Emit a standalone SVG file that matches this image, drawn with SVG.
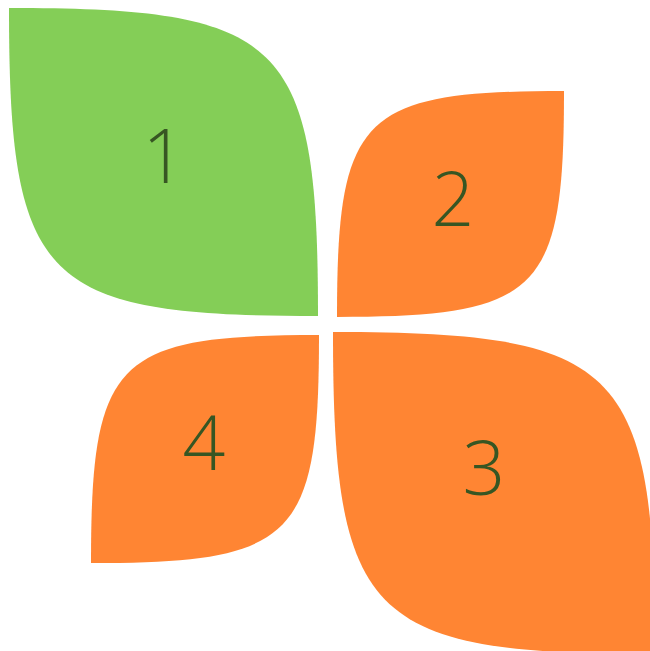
<svg xmlns="http://www.w3.org/2000/svg" width="650" height="651" viewBox="0 0 650 651">
<style>
.leaf{stroke:none}
.g{fill:#84ce57}
.o{fill:#ff8533}
.lbl{font-family:"Open Sans","Noto Sans","Liberation Sans",sans-serif;font-weight:300;font-size:75px;fill:#375623;text-anchor:middle}
</style>
<rect width="650" height="651" fill="#ffffff"/>
<g id="node1">
<path class="leaf g" d="M9,8 C285,8 318,40 318,316 C42,316 9,284 9,8 Z"/>
<text class="lbl" x="164" y="183">1</text>
</g>
<g id="node2">
<path class="leaf o" d="M564,91 C361,91 337,115 337,317 C540,317 564,293 564,91 Z"/>
<text class="lbl" x="453" y="226">2</text>
</g>
<g id="node3">
<path class="leaf o" d="M333,332 C620,332 655,366 655,654 C368,654 333,620 333,332 Z"/>
<text class="lbl" x="484" y="495">3</text>
</g>
<g id="node4">
<path class="leaf o" d="M319,335 C115,335 91,359 91,563 C295,563 319,539 319,335 Z"/>
<text class="lbl" x="204" y="470">4</text>
</g>
<g id="connectors"/>
</svg>
